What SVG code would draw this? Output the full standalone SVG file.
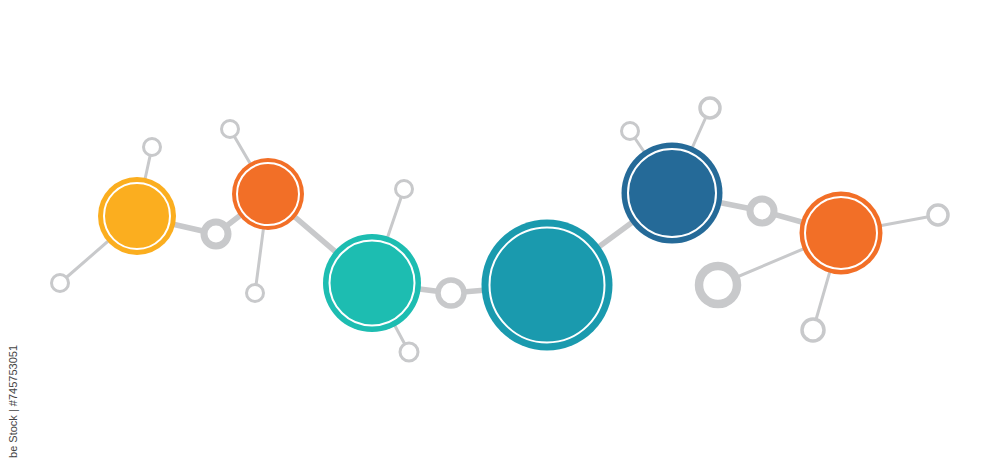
<svg xmlns="http://www.w3.org/2000/svg" width="1000" height="461" viewBox="0 0 1000 461">
<style>
.ln{stroke:#C8C9CB;stroke-linecap:round;fill:none}
.thin{stroke-width:3}
.thick{stroke-width:5.5}
.ring{fill:#fff;stroke:#C8C9CB}
.inner{fill:none;stroke:#fff;stroke-width:2}
.wm{font-family:"Liberation Sans",Arial,sans-serif;font-size:11px;fill:#444}
</style>
<rect width="1000" height="461" fill="#fff"/>
<g id="connectors">
<line class="ln thin" x1="137" y1="216" x2="152" y2="147"/>
<line class="ln thin" x1="137" y1="216" x2="60" y2="283"/>
<line class="ln thick" x1="137" y1="216" x2="216" y2="234"/>
<line class="ln thick" x1="216" y1="234" x2="268" y2="194"/>
<line class="ln thin" x1="268" y1="194" x2="230" y2="129"/>
<line class="ln thin" x1="268" y1="194" x2="255" y2="293"/>
<line class="ln thick" x1="268" y1="194" x2="372" y2="283"/>
<line class="ln thin" x1="372" y1="283" x2="404" y2="189"/>
<line class="ln thin" x1="372" y1="283" x2="409" y2="352"/>
<line class="ln thick" x1="372" y1="283" x2="451" y2="293"/>
<line class="ln thick" x1="451" y1="293" x2="547" y2="285"/>
<line class="ln thick" x1="547" y1="285" x2="672" y2="193"/>
<line class="ln thin" x1="672" y1="193" x2="630" y2="131"/>
<line class="ln thin" x1="672" y1="193" x2="710" y2="108"/>
<line class="ln thick" x1="672" y1="193" x2="762" y2="211"/>
<line class="ln thick" x1="762" y1="211" x2="841" y2="233"/>
<line class="ln thin" x1="841" y1="233" x2="938" y2="215"/>
<line class="ln thin" x1="841" y1="233" x2="718" y2="285"/>
<line class="ln thin" x1="841" y1="233" x2="813" y2="330"/>
</g>
<g id="n-yellow"><circle cx="137" cy="216" r="39" fill="#FBAE1F"/><circle class="inner" cx="137" cy="216" r="33"/></g>
<g id="r-yellow-top"><circle class="ring" cx="152" cy="147" r="8.5" stroke-width="3"/></g>
<g id="r-yellow-bl"><circle class="ring" cx="60" cy="283" r="8.5" stroke-width="3"/></g>
<g id="r-mid1"><circle class="ring" cx="216" cy="234" r="12" stroke-width="7"/></g>
<g id="n-orange1"><circle cx="268" cy="194" r="36" fill="#F26F27"/><circle class="inner" cx="268" cy="194" r="31"/></g>
<g id="r-orange1-top"><circle class="ring" cx="230" cy="129" r="8.5" stroke-width="3"/></g>
<g id="r-orange1-bot"><circle class="ring" cx="255" cy="293" r="8.5" stroke-width="3"/></g>
<g id="n-teal"><circle cx="372" cy="283" r="49" fill="#1DBDB1"/><circle class="inner" cx="372" cy="283" r="42.5"/></g>
<g id="r-teal-top"><circle class="ring" cx="404" cy="189" r="8.5" stroke-width="3"/></g>
<g id="r-teal-bot"><circle class="ring" cx="409" cy="352" r="9" stroke-width="3"/></g>
<g id="r-mid2"><circle class="ring" cx="451" cy="293" r="13" stroke-width="5.5"/></g>
<g id="n-big"><circle cx="547" cy="285" r="65.5" fill="#1A9AAE"/><circle class="inner" cx="547" cy="285" r="57.5"/></g>
<g id="n-blue"><circle cx="672" cy="193" r="50.5" fill="#256A98"/><circle class="inner" cx="672" cy="193" r="44"/></g>
<g id="r-blue-tl"><circle class="ring" cx="630" cy="131" r="8.5" stroke-width="3"/></g>
<g id="r-blue-tr"><circle class="ring" cx="710" cy="108" r="10" stroke-width="3.5"/></g>
<g id="r-mid3"><circle class="ring" cx="762" cy="211" r="12" stroke-width="7"/></g>
<g id="n-orange2"><circle cx="841" cy="233" r="41.5" fill="#F26F27"/><circle class="inner" cx="841" cy="233" r="36"/></g>
<g id="r-orange2-right"><circle class="ring" cx="938" cy="215" r="10" stroke-width="3.5"/></g>
<g id="r-orange2-left"><circle class="ring" cx="718" cy="285" r="19" stroke-width="8.5"/></g>
<g id="r-orange2-bot"><circle class="ring" cx="813" cy="330" r="11" stroke-width="3.5"/></g>
<text class="wm" transform="translate(17,345) rotate(-90)" text-anchor="end">be Stock | #745753051</text>
</svg>
